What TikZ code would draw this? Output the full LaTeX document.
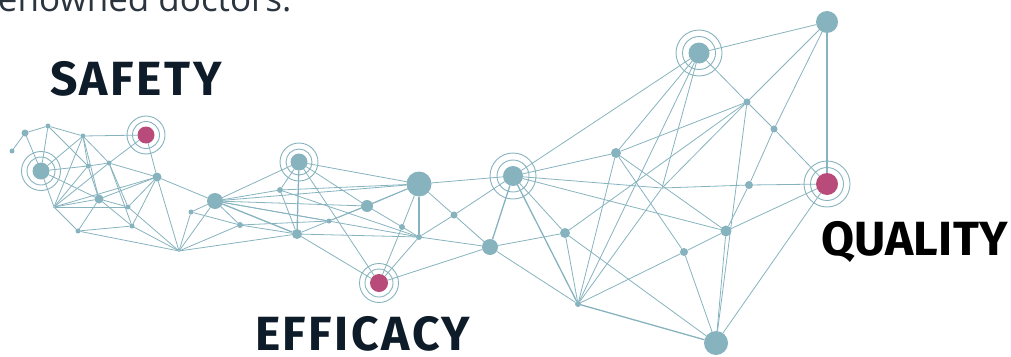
\documentclass[tikz,border=0pt]{standalone}
\usepackage{fontspec}
\usepackage{xcolor}
\usepackage{tikz}
\newfontfamily\topfont{Open Sans}
\newfontfamily\labelfont[LetterSpace=5.5]{Fira Sans}
\newfontfamily\qualfont[LetterSpace=0.5]{Fira Sans}
\definecolor{netblue}{HTML}{86B3BE}
\definecolor{netpink}{HTML}{B84B7A}
\definecolor{navy}{HTML}{0E1C2A}
\definecolor{inktop}{HTML}{2B3540}

\begin{document}
\begin{tikzpicture}[x=1pt,y=-1pt,line join=round]
  \tikzstyle{every node}=[inner sep=0pt,outer sep=0pt]
  \tikzstyle{dot}=[circle,fill=netblue]
  \tikzstyle{joint}=[dot,minimum size=2pt]
  \tikzstyle{tiny}=[dot,minimum size=5pt]
  \tikzstyle{small}=[dot,minimum size=7pt]
  \tikzstyle{mid}=[dot,minimum size=9pt]
  \tikzstyle{large}=[dot,minimum size=16pt]
  \tikzstyle{huge}=[dot,minimum size=24pt]
  \tikzstyle{pink}=[circle,fill=netpink]
  \tikzstyle{ring}=[draw=netblue,line width=.9pt]
  \tikzstyle{every edge}=[draw=netblue,line width=.8pt]
  \tikzstyle{heavy}=[line width=1.3pt]
  \tikzstyle{title}=[font=\labelfont\bfseries\fontsize{48}{48}\selectfont,text=navy,anchor=base west]

  \useasboundingbox (0,0) rectangle (1011,356);

  \node[font=\topfont\fontsize{35}{35}\selectfont,text=inktop,anchor=base west] (intro) at (-2,11) {enowned doctors.};
  \node[title] (safety) at (50,95) {SAFETY};
  \node[title] (efficacy) at (255,350) {EFFICACY};
  \node[title,font=\qualfont\bfseries\fontsize{48}{48}\selectfont,text=black] (quality) at (821,255) {QUALITY};

  \node[small] (1) at (25,133) {};
  \node[tiny] (2) at (48,126) {};
  \node[tiny] (3) at (12,151) {};
  \node[dot,minimum size=17pt] (4) at (41,171) {};
  \node[tiny] (5) at (83,136) {};
  \node[pink,minimum size=17pt] (6) at (146,135) {};
  \node[tiny] (7) at (88,166) {};
  \node[tiny] (8) at (109,163) {};
  \node[mid] (9) at (157,177) {};
  \node[joint] (10) at (54,207) {};
  \node[mid] (11) at (99,199) {};
  \node[tiny] (12) at (128,207) {};
  \node[tiny] (13) at (78,231) {};
  \node[tiny] (14) at (132,226) {};
  \node[joint] (15) at (179,251) {};
  \node[large] (16) at (215,201) {};
  \node[tiny] (17) at (191,212) {};
  \node[dot,minimum size=6pt] (18) at (240,225) {};
  \node[dot,minimum size=17pt] (19) at (299,162) {};
  \node[dot,minimum size=6pt] (20) at (280,190) {};
  \node[dot,minimum size=10pt] (21) at (297,234) {};
  \node[tiny] (22) at (329,221) {};
  \node[huge,minimum size=25pt] (23) at (419,184) {};
  \node[dot,minimum size=12pt] (24) at (367,206) {};
  \node[dot,minimum size=6pt] (25) at (402,227) {};
  \node[dot,minimum size=6pt] (26) at (419,237) {};
  \node[small] (27) at (454,215) {};
  \node[pink,minimum size=18pt] (28) at (379,283) {};
  \node[large] (29) at (490,247) {};
  \node[dot,minimum size=20pt] (30) at (513,176) {};
  \node[dot,minimum size=10pt] (31) at (616,153) {};
  \node[dot,minimum size=10pt] (32) at (565,233) {};
  \node[dot,minimum size=6pt] (33) at (578,304) {};
  \node[joint] (34) at (662,188) {};
  \node[dot,minimum size=8pt] (35) at (684,252) {};
  \node[dot,minimum size=11pt] (36) at (726,231) {};
  \node[dot,minimum size=8pt] (37) at (749,185) {};
  \node[small] (38) at (774,129) {};
  \node[small] (39) at (747,102) {};
  \node[dot,minimum size=21pt] (40) at (699,53) {};
  \node[dot,minimum size=22pt] (41) at (827,22) {};
  \node[pink,minimum size=22pt] (42) at (827,184) {};
  \node[huge] (43) at (716,343) {};

  \foreach \n/\a/\b in {4/14/19.5,6/13.5/19,19/13/19,28/14/19.5,30/16/23,40/16.5/23,42/16.5/23}
    \draw[ring] (\n) circle (\a pt) circle (\b pt);

  \path (1)  edge (3) edge (2) edge (4)
        (2)  edge (4) edge (5) edge (7)
        (4)  edge (5) edge (7) edge (10) edge (11)
        (5)  edge (6) edge (10) edge (7) edge (11) edge (8)
        (6)  edge (8) edge (9)
        (7)  edge (8) edge (10) edge (11)
        (8)  edge (10) edge (12) edge (9) edge (14)
        (9)  edge (10) edge (11) edge (12) edge (14) edge (15) edge (16)
        (10) edge (11) edge (12) edge (13)
        (11) edge (13) edge (14) edge (12)
        (13) edge (14) edge (15)
        (14) edge (15)
        (12) edge (15)
        (15) edge (16) edge (17) edge (21) edge (18)
        (16) edge (17) edge (18) edge (19) edge (20) edge (24)
             edge[heavy] (21) edge (22) edge (23) edge (26)
        (17) edge (18)
        (18) edge (22) edge (21)
        (19) edge (20) edge[heavy] (21) edge (23) edge (28) edge (24)
        (20) edge (21) edge (23) edge (26)
        (21) edge (22) edge (26) edge (28)
        (22) edge (23) edge (24)
        (24) edge (23) edge (26)
        (23) edge (25) edge[heavy] (26) edge (27) edge (30)
        (25) edge (28)
        (26) edge (27) edge (28) edge (29)
        (27) edge (29) edge (30)
        (28) edge (29)
        (29) edge[heavy] (30) edge (32) edge (33)
        (30) edge (31) edge (32) edge[heavy] (33) edge (34) edge (36) edge (40)
        (31) edge (33) edge (39) edge (36) edge (40) edge (35)
        (32) edge (33) edge (39) edge (43)
        (33) edge (35) edge[heavy] (43) edge (40) edge (34)
        (34) edge (37) edge (39) edge (40)
        (35) edge (36) edge (43)
        (36) edge (42) edge (43) edge (37)
        (37) edge (38) edge (42)
        (38) edge (39) edge (41) edge (42)
        (39) edge (40) edge (41) edge (43)
        (40) edge (41)
        (41) edge[heavy] (42)
        (42) edge (43);
\end{tikzpicture}
\end{document}
